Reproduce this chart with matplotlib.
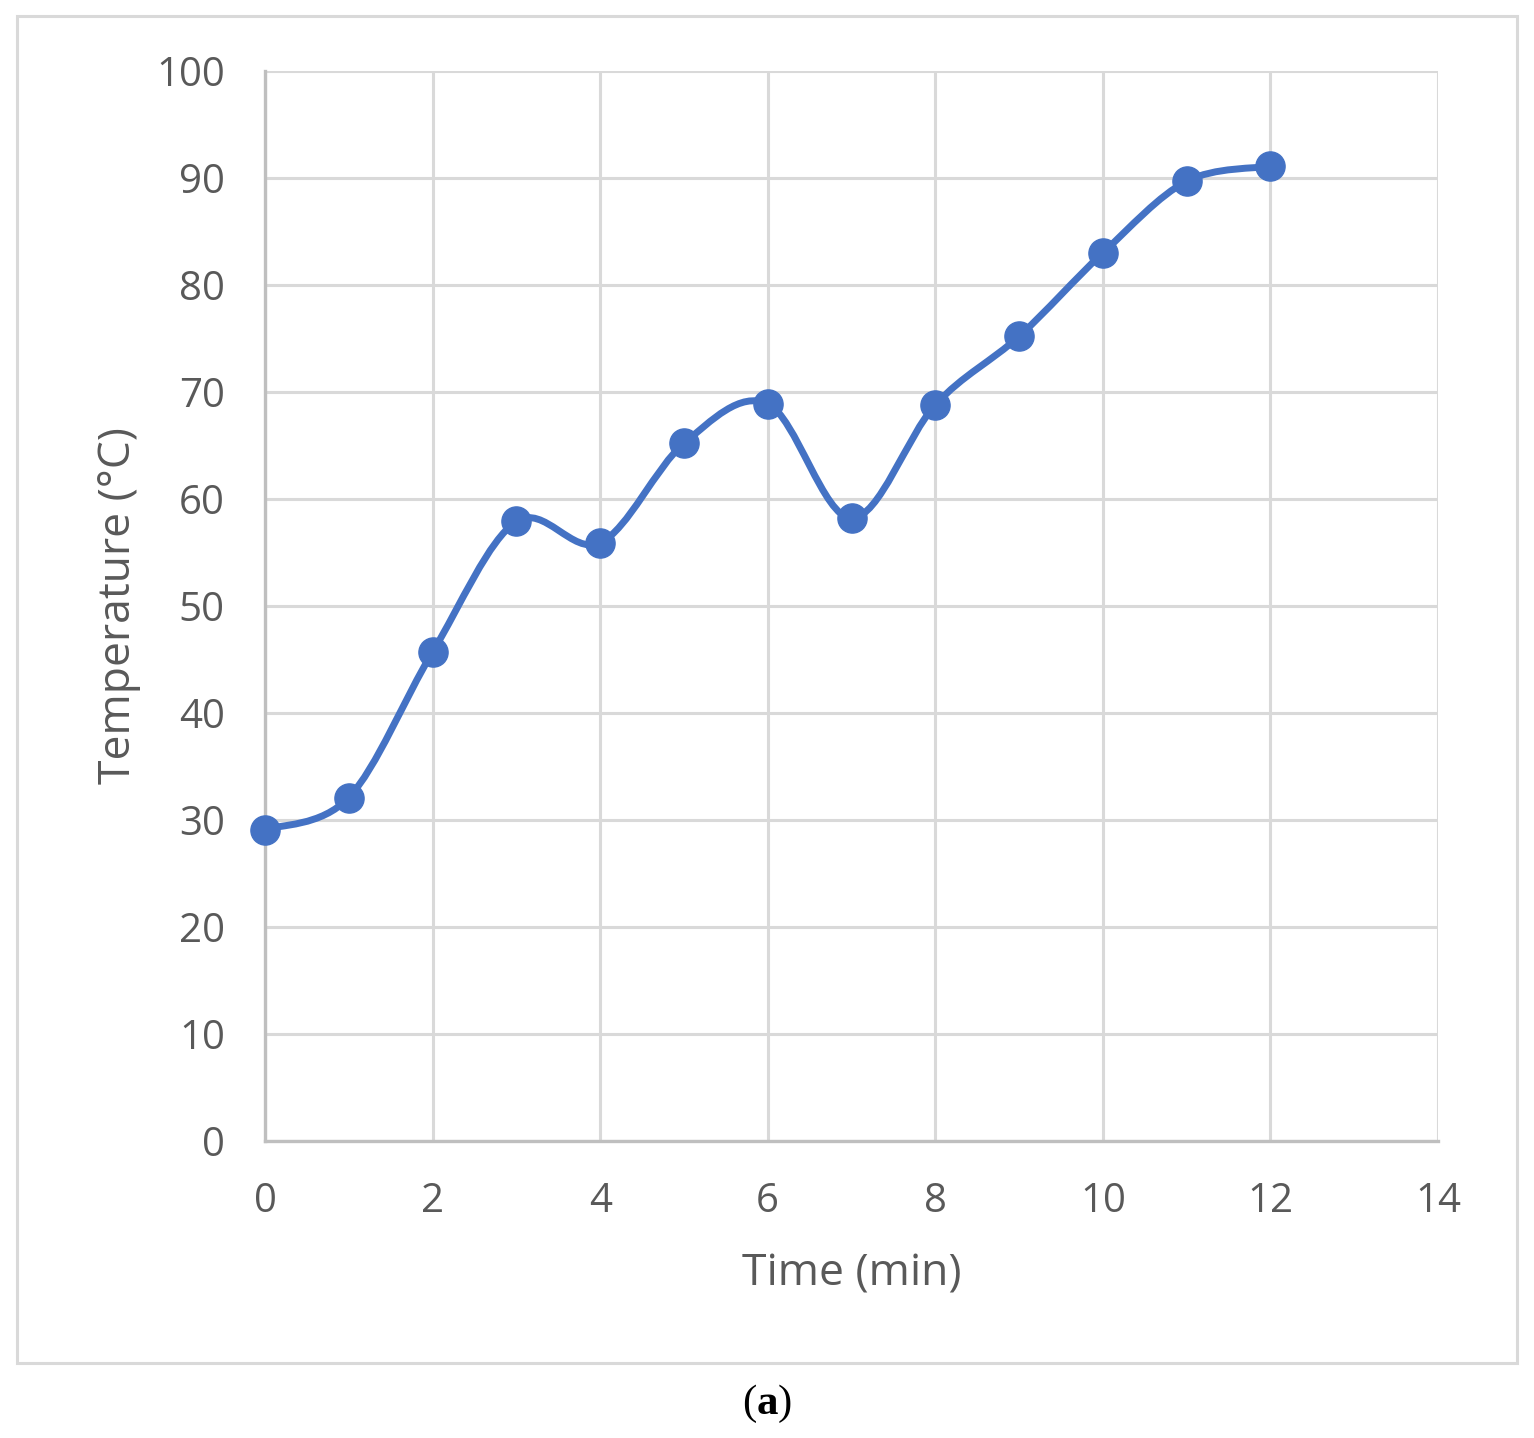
import numpy as np
from matplotlib import pyplot as plt
from matplotlib.path import Path
from matplotlib.patches import PathPatch, Rectangle

# readings from the chart
time_min = [0, 1, 2, 3, 4, 5, 6, 7, 8, 9, 10, 11, 12]
temp_c = [29.1, 32.1, 45.7, 57.9, 55.9, 65.2, 68.9, 58.2, 68.8, 75.2, 83.0, 89.7, 91.1]
x_ticks = [0, 2, 4, 6, 8, 10, 12, 14]
y_ticks = [0, 10, 20, 30, 40, 50, 60, 70, 80, 90, 100]

BLUE = '#4472c4'
GRID = '#d9d9d9'
TEXT = '#595959'
FONT = 'Open Sans'

plt.rcParams['mathtext.fontset'] = 'custom'
plt.rcParams['mathtext.rm'] = 'Liberation Serif'
plt.rcParams['mathtext.bf'] = 'Liberation Serif:bold'


def smooth_path(xs, ys):
    '''Excel style smoothed line: cubic bezier segments through every point.'''
    pts = np.column_stack([xs, ys]).astype(float)
    n = len(pts)
    verts = [pts[0]]
    codes = [Path.MOVETO]
    for i in range(n - 1):
        p0 = pts[max(i - 1, 0)]
        p1 = pts[i]
        p2 = pts[i + 1]
        p3 = pts[min(i + 2, n - 1)]
        c1 = p1 + (p2 - p0) / 6.0
        c2 = p2 - (p3 - p1) / 6.0
        verts += [c1, c2, p2]
        codes += [Path.CURVE4] * 3
    return Path(verts, codes)


fig = plt.figure(figsize=(15.34, 14.38), dpi=100)

# outer chart frame
fig.patches.append(Rectangle((17 / 1534, 1 - 1363 / 1438), 1500 / 1534, 1347 / 1438,
                             transform=fig.transFigure, fill=False,
                             edgecolor=GRID, linewidth=2.2))

ax = fig.add_axes([265 / 1534, 1 - 1141 / 1438, 1173 / 1534, 1070 / 1438])
ax.set_xlim(0, 14)
ax.set_ylim(0, 100)
ax.set_xticks(x_ticks)
ax.set_yticks(y_ticks)
ax.grid(True, color=GRID, linewidth=2.2)
ax.set_axisbelow(True)

for side in ['top', 'right']:
    ax.spines[side].set_visible(False)
for side in ['left', 'bottom']:
    ax.spines[side].set_color('#bfbfbf')
    ax.spines[side].set_linewidth(2.4)

ax.tick_params(length=0, labelsize=29, labelcolor=TEXT)
ax.tick_params(axis='y', pad=29)
ax.tick_params(axis='x', pad=29)
for lab in ax.get_xticklabels() + ax.get_yticklabels():
    lab.set_family(FONT)

ax.add_patch(PathPatch(smooth_path(time_min, temp_c), fill=False,
                       edgecolor=BLUE, linewidth=5.0, zorder=3, clip_on=False))
ax.plot(time_min, temp_c, 'o', color=BLUE, markersize=21, zorder=4, clip_on=False)

ax.set_xlabel('Time (min)', fontsize=32, color=TEXT, family=FONT, labelpad=22)
ax.set_ylabel('Temperature (°C)', fontsize=32, color=TEXT, family=FONT, labelpad=11)

fig.text(767 / 1534, 1 - 1404 / 1438, r'($\mathbf{a}$)', fontsize=31,
         family='Liberation Serif', ha='center', va='center')

plt.savefig('out.png', dpi=100)
